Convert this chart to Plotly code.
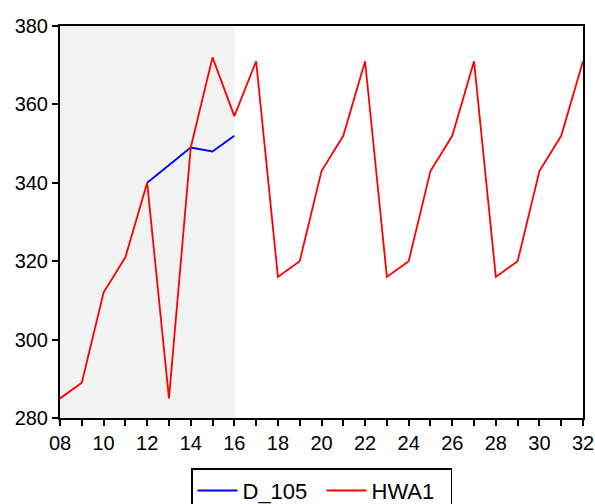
import plotly.graph_objects as go

years = list(range(8, 33))
hwa1 = [285, 289, 312, 321, 340, 285, 349, 372, 357, 371,
        316, 320, 343, 352, 371, 316, 320, 343, 352, 371,
        316, 320, 343, 352, 371]
d105_years = [12, 13, 14, 15, 16]
d105 = [340, 344.5, 349, 348, 352]

xtick_vals = years
xtick_text = [f"{y:02d}" if y % 2 == 0 else "" for y in years]
ytick_vals = [280, 300, 320, 340, 360, 380]

fig = go.Figure()
fig.add_trace(go.Scatter(x=d105_years, y=d105, mode="lines", name="D_105",
                         line=dict(color="#0000ff", width=1.8)))
fig.add_trace(go.Scatter(x=years, y=hwa1, mode="lines", name="HWA1",
                         line=dict(color="#ff0000", width=1.8)))

fig.add_vrect(x0=years[0], x1=d105_years[-1], fillcolor="#f2f2f2", opacity=1,
              line_width=0, layer="below")

fig.update_layout(
    width=595, height=504,
    margin=dict(l=60, r=12, t=26, b=86, autoexpand=False),
    paper_bgcolor="white", plot_bgcolor="white",
    font=dict(family="Liberation Sans, Arial, sans-serif", size=20, color="black"),
    showlegend=True,
    legend=dict(orientation="h", x=0.5, xanchor="center", y=-0.128, yanchor="top",
                bordercolor="black", borderwidth=1.5, bgcolor="white",
                font=dict(size=22), itemwidth=40, entrywidth=74, tracegroupgap=0),
    xaxis=dict(range=[8, 32], tickvals=xtick_vals, ticktext=xtick_text,
               ticks="outside", ticklen=6, tickwidth=1.5, tickcolor="black",
               showline=True, linecolor="black", linewidth=2, mirror=True,
               showgrid=False, zeroline=False, automargin=False),
    yaxis=dict(range=[280, 380], tickvals=ytick_vals,
               ticks="outside", ticklen=6, tickwidth=1.5, tickcolor="black",
               showline=True, linecolor="black", linewidth=2, mirror=True,
               showgrid=False, zeroline=False, automargin=False),
)

fig.write_html("out.html", config={"displayModeBar": False},
               post_script="document.body.style.margin='0';document.body.style.overflow='hidden';")
